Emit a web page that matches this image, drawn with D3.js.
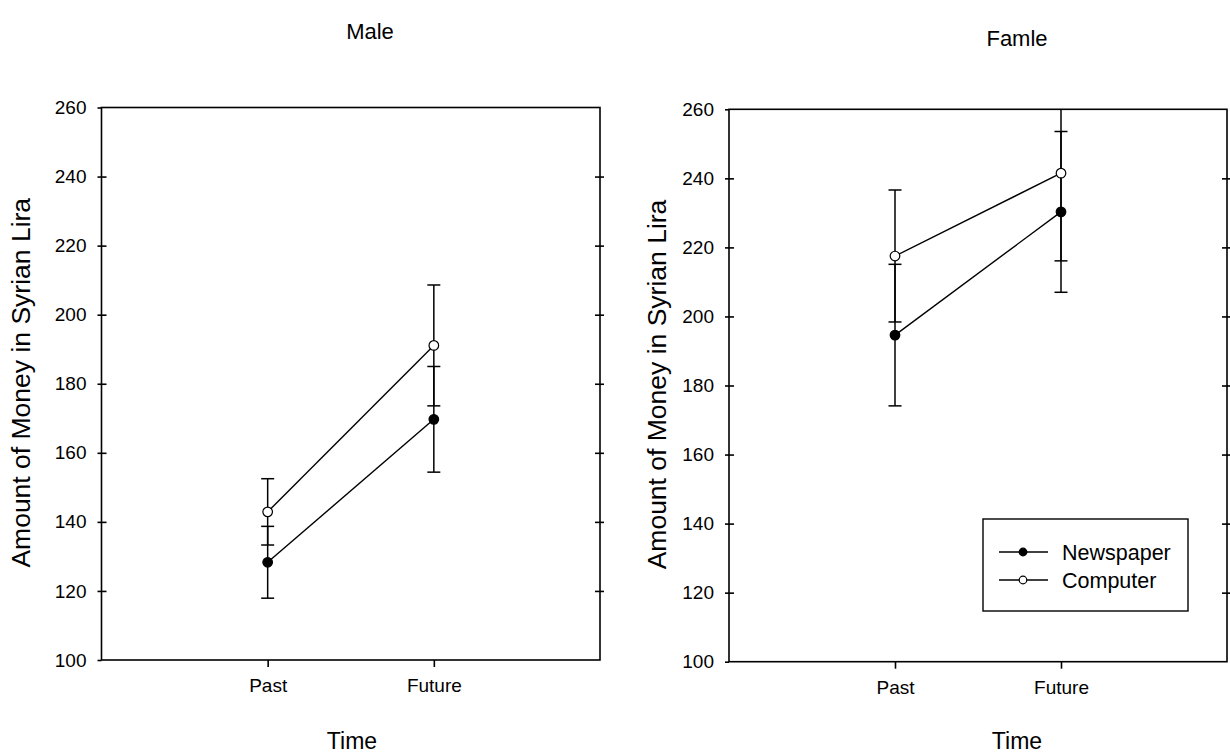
<!DOCTYPE html>
<html>
<head>
<meta charset="utf-8">
<script src="https://cdn.jsdelivr.net/npm/d3@7"></script>
<style>
  body { margin: 0; background: #fff; }
  text { font-family: "Liberation Sans", Arial, sans-serif; fill: #000; }
  .axis path, .axis line { stroke: #000; stroke-width: 1.6; }
  .axis .domain { display: none; }
</style>
</head>
<body>
<svg id="chart"></svg>
<script>
// Declaring all constants
const svgWidth = 1230,
    svgHeight = 753;

const times = ["Past", "Future"];
const timePos = [1, 2];
const yTicks = [100, 120, 140, 160, 180, 200, 220, 240, 260];

// Male panel
const maleNewspaper = [128.3, 169.7];
const maleNewspaperErr = [10.4, 15.3];
const maleComputer = [142.9, 191.1];
const maleComputerErr = [9.6, 17.5];

// Female panel
const femaleNewspaper = [194.6, 230.3];
const femaleNewspaperErr = [20.5, 23.3];
const femaleComputer = [217.5, 241.5];
const femaleComputerErr = [19.1, 25.4];

const seriesNames = ["Newspaper", "Computer"];

const chart = d3.select("#chart")
    .attr("width", svgWidth)
    .attr("height", svgHeight);

function drawPanel(p) {
    const width = p.right - p.left,
        height = p.bottom - p.top;

    var xScale = d3.scaleLinear().domain([0, 3]).range([0, width]);
    var yScale = d3.scaleLinear().domain([100, 260]).range([height, 0]);

    var g = chart.append("g")
        .attr("transform", "translate(" + p.left + "," + p.top + ")");

    g.append("clipPath").attr("id", p.id + "clip")
        .append("rect").attr("width", width).attr("height", height);

    // frame
    g.append("rect")
        .attr("width", width).attr("height", height)
        .attr("fill", "none").attr("stroke", "#000").attr("stroke-width", 1.6);

    // y axis left (outer ticks with labels + inner ticks)
    g.append("g").attr("class", "axis")
        .call(d3.axisLeft(yScale).tickValues(yTicks).tickSize(4).tickPadding(11))
        .selectAll("text").style("font-size", "19px").style("font-family", "Liberation Sans, Arial");
    g.append("g").attr("class", "axis")
        .call(d3.axisRight(yScale).tickValues(yTicks.slice(1, -1)).tickSize(5).tickFormat(""));

    // y axis right, ticks crossing
    g.append("g").attr("class", "axis")
        .attr("transform", "translate(" + width + ",0)")
        .call(d3.axisRight(yScale).tickValues(yTicks.slice(1, -1)).tickSize(4).tickFormat(""));
    g.append("g").attr("class", "axis")
        .attr("transform", "translate(" + width + ",0)")
        .call(d3.axisLeft(yScale).tickValues(yTicks.slice(1, -1)).tickSize(5).tickFormat(""));

    // x axis
    g.append("g").attr("class", "axis")
        .attr("transform", "translate(0," + height + ")")
        .call(d3.axisBottom(xScale).tickValues(timePos).tickSize(7).tickPadding(12)
            .tickFormat(function(d, i) { return times[i]; }))
        .selectAll("text").style("font-size", "19px").style("font-family", "Liberation Sans, Arial");

    // titles
    chart.append("text")
        .attr("x", p.titleX).attr("y", p.titleY)
        .attr("text-anchor", "middle")
        .style("font-size", "22px")
        .text(p.title);

    chart.append("text")
        .attr("x", p.timeX).attr("y", 749)
        .attr("text-anchor", "middle")
        .style("font-size", "23px")
        .text("Time");

    chart.append("text")
        .attr("transform", "translate(" + p.ylabX + "," + (p.top + height / 2 - 1) + ") rotate(-90)")
        .attr("text-anchor", "middle")
        .style("font-size", "26.5px")
        .text("Amount of Money in Syrian Lira");

    var plot = g.append("g").attr("clip-path", "url(#" + p.id + "clip)");

    var line = d3.line()
        .x(function(d, i) { return xScale(timePos[i]); })
        .y(function(d) { return yScale(d); });

    var series = [
        {values: p.newspaper, err: p.newspaperErr, fill: "#000"},
        {values: p.computer, err: p.computerErr, fill: "#fff"}
    ];

    series.forEach(function(s) {
        // error bars
        s.values.forEach(function(v, i) {
            var x = xScale(timePos[i]);
            var hi = yScale(v + s.err[i]), lo = yScale(v - s.err[i]);
            plot.append("line").attr("x1", x).attr("x2", x).attr("y1", hi).attr("y2", lo)
                .attr("stroke", "#000").attr("stroke-width", 1.5);
            [hi, lo].forEach(function(yy) {
                plot.append("line").attr("x1", x - 6.5).attr("x2", x + 6.5).attr("y1", yy).attr("y2", yy)
                    .attr("stroke", "#000").attr("stroke-width", 1.5);
            });
        });
    });

    series.forEach(function(s) {
        plot.append("path")
            .datum(s.values)
            .attr("d", line)
            .attr("fill", "none")
            .attr("stroke", "#000")
            .attr("stroke-width", 1.4);
    });

    series.forEach(function(s) {
        plot.selectAll(null)
            .data(s.values)
            .enter()
            .append("circle")
            .attr("cx", function(d, i) { return xScale(timePos[i]); })
            .attr("cy", function(d) { return yScale(d); })
            .attr("r", 4.8)
            .attr("fill", s.fill)
            .attr("stroke", "#000")
            .attr("stroke-width", 1.2);
    });

    if (p.legend) {
        var lg = chart.append("g").attr("transform", "translate(983,519)");
        lg.append("rect").attr("width", 205).attr("height", 92)
            .attr("fill", "#fff").attr("stroke", "#000").attr("stroke-width", 1.4);
        seriesNames.forEach(function(name, i) {
            var yy = 33 + i * 28;
            lg.append("line").attr("x1", 16).attr("x2", 65).attr("y1", yy).attr("y2", yy)
                .attr("stroke", "#000").attr("stroke-width", 1.4);
            lg.append("circle").attr("cx", 40).attr("cy", yy).attr("r", 3.8)
                .attr("fill", series[i].fill).attr("stroke", "#000").attr("stroke-width", 1.2);
            lg.append("text").attr("x", 79).attr("y", yy).attr("dy", "0.36em")
                .style("font-size", "21.5px").text(name);
        });
    }
}

drawPanel({
    id: "male", left: 101.5, right: 600, top: 107.5, bottom: 660,
    title: "Male", titleX: 370, titleY: 39, timeX: 352, ylabX: 30,
    newspaper: maleNewspaper, newspaperErr: maleNewspaperErr,
    computer: maleComputer, computerErr: maleComputerErr, legend: false
});

drawPanel({
    id: "female", left: 729, right: 1227, top: 109.3, bottom: 661.7,
    title: "Famle", titleX: 1017, titleY: 46, timeX: 1017, ylabX: 666,
    newspaper: femaleNewspaper, newspaperErr: femaleNewspaperErr,
    computer: femaleComputer, computerErr: femaleComputerErr, legend: true
});
</script>
</body>
</html>
